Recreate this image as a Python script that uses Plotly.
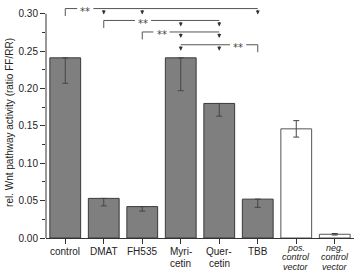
import plotly.graph_objects as go

# ---- data ----
categories = ["control", "DMAT", "FH535", "Myricetin", "Quercetin", "TBB", "pos. control vector", "neg. control vector"]
label_lines = [["control"], ["DMAT"], ["FH535"], ["Myri-", "cetin"], ["Quer-", "cetin"], ["TBB"],
               ["pos.", "control", "vector"], ["neg.", "control", "vector"]]
values = [0.241, 0.053, 0.042, 0.241, 0.180, 0.052, 0.146, 0.005]
err_plus = [0, 0, 0, 0, 0, 0, 0.011, 0.001]
err_minus = [0.034, 0.010, 0.006, 0.044, 0.017, 0.011, 0.011, 0.001]
is_control_vector = [False, False, False, False, False, False, True, True]

# significance brackets: (reference index, compared indices, line level, star position)
brackets = [
    (0, [1, 2, 5], 0.3069, 0.52),
    (1, [3, 4], 0.2910, 2.02),
    (2, [3, 4], 0.2756, 2.5),
    (5, [3, 4], 0.2585, 4.49),
]
sig_label = "**"

YTOP = 0.309
AXIS_TOP = 0.30
tick_drop = 0.0100
arrow_drop = 0.0080
star_gap = 0.21

x = list(range(len(categories)))
fills = ["white" if c else "#7f7f7f" for c in is_control_vector]
lines = ["#555555" if c else "#3a3a3a" for c in is_control_vector]

fig = go.Figure()
fig.add_trace(go.Bar(
    x=x, y=values, width=0.8,
    marker=dict(color=fills, line=dict(color=lines, width=1)),
    error_y=dict(type="data", symmetric=False, array=err_plus, arrayminus=err_minus,
                 color="#444444", thickness=1, width=3),
    showlegend=False,
))

shapes = []
annotations = []
line_style = dict(color="#555555", width=1)
# manual y axis line (stops at 0.30)
shapes.append(dict(type="line", xref="paper", yref="y", x0=0, x1=0, y0=0, y1=AXIS_TOP,
                   line=dict(color="#333333", width=1)))
for ref, comps, level, star_x in brackets:
    xs = [ref] + comps
    lo, hi = min(xs), max(xs)
    # horizontal line, interrupted by the significance label
    shapes.append(dict(type="line", xref="x", yref="y", x0=lo, x1=star_x - star_gap, y0=level, y1=level,
                       line=line_style))
    shapes.append(dict(type="line", xref="x", yref="y", x0=star_x + star_gap, x1=hi, y0=level, y1=level,
                       line=line_style))
    shapes.append(dict(type="line", xref="x", yref="y", x0=ref, x1=ref, y0=level, y1=level - tick_drop,
                       line=line_style))
    for c in comps:
        annotations.append(dict(x=c, y=level - arrow_drop, ax=c, ay=level, xref="x", yref="y",
                                axref="x", ayref="y", text="", showarrow=True, arrowhead=2,
                                arrowsize=0.8, arrowwidth=1, arrowcolor="#333333", standoff=0))
    annotations.append(dict(x=star_x, y=level, xref="x", yref="y", text=sig_label, showarrow=False,
                            font=dict(family="DejaVu Sans", size=10, color="#444444"),
                            borderpad=0, yshift=-3))

# category labels below the x axis (tight line spacing as in the original)
for i, lines_i in enumerate(label_lines):
    ital = is_control_vector[i]
    for j, t in enumerate(lines_i):
        if ital:
            txt, size, shift = "<i>%s</i>" % t, 9, 9.5 + 9.9 * j
        else:
            txt, size, shift = t, 10, 13 + 12.3 * j
        annotations.append(dict(x=i, y=0, xref="x", yref="y", text=txt, showarrow=False,
                                yanchor="middle", yshift=-shift, font=dict(size=size, color="#222222")))

fig.update_layout(
    width=358, height=275,
    margin=dict(l=46, r=4, t=7, b=37),
    paper_bgcolor="white", plot_bgcolor="white",
    font=dict(family="Liberation Sans, Arial, sans-serif", size=10, color="#222222"),
    shapes=shapes, annotations=annotations,
    xaxis=dict(range=[-0.5, 7.5], tickmode="array", tickvals=x, ticktext=[""] * len(x),
               showline=True, linecolor="#333333", linewidth=1, ticks="outside", ticklen=5,
               tickcolor="#333333", showgrid=False, zeroline=False, automargin=False),
    yaxis=dict(range=[0, YTOP], tickmode="linear", tick0=0, dtick=0.05, tickformat=".2f",
               showline=False, ticks="outside", ticklen=5, tickcolor="#333333",
               minor=dict(dtick=0.025, ticks="outside", ticklen=3, tickcolor="#333333"),
               showgrid=False, zeroline=False, automargin=False,
               title=dict(text="rel. Wnt pathway activity (ratio FF/RR)", font=dict(size=10), standoff=3)),
)

fig.write_html("out.html", config={"displayModeBar": False},
               post_script="document.body.style.margin='0';")
